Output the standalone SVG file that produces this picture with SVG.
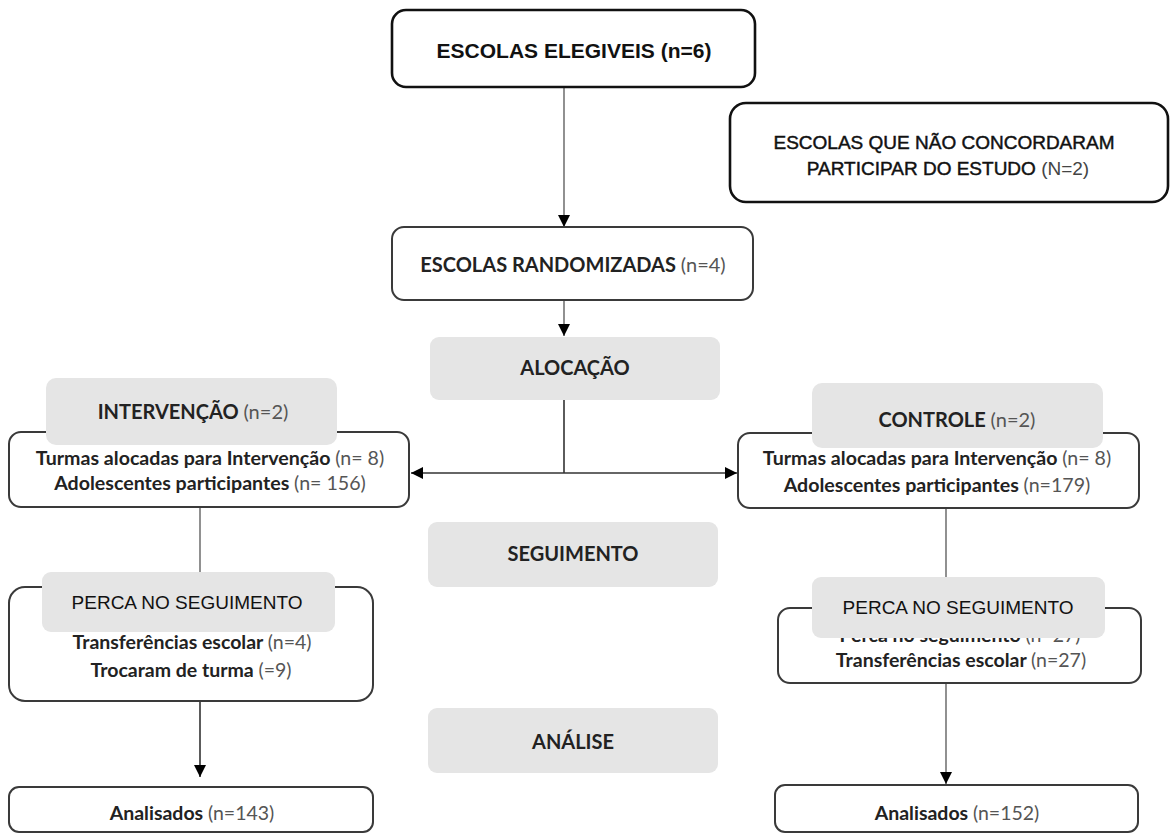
<svg xmlns="http://www.w3.org/2000/svg" width="1171" height="834" viewBox="0 0 1171 834">
<defs>
<style>
.bg{fill:#ffffff}
.box{fill:#ffffff;stroke:#3a3a3a;stroke-width:2}
.boxk{fill:#ffffff;stroke:#111111;stroke-width:2.6}
.gray{fill:#e5e5e5;stroke:none}
.line{fill:none;stroke:#555555;stroke-width:1.3}
.lineh{fill:none;stroke:#333333;stroke-width:1.6}
.ar{font-family:"Liberation Sans",Arial,sans-serif;fill:#111111}
.med{stroke:#111111;stroke-width:0.45}
.cb{font-family:Lato,"Open Sans",sans-serif;fill:#222222;font-weight:bold}
.n{font-weight:normal;fill:#555555}
</style>
<marker id="ah" viewBox="0 0 10 10" refX="10" refY="5" markerWidth="12" markerHeight="12" markerUnits="userSpaceOnUse" orient="auto">
<path d="M0,0 L10,5 L0,10 Z" fill="#000000"/>
</marker>
</defs>
<rect class="bg" x="0" y="0" width="1171" height="834"/>

<g id="connectors">
<line class="line" x1="564" y1="87" x2="564" y2="227" marker-end="url(#ah)"/>
<line class="line" x1="564" y1="300" x2="564" y2="336" marker-end="url(#ah)"/>
<line class="lineh" x1="564" y1="400" x2="564" y2="473"/>
<line class="lineh" x1="564" y1="473" x2="411" y2="473" marker-end="url(#ah)"/>
<line class="lineh" x1="564" y1="473" x2="737" y2="473" marker-end="url(#ah)"/>
<line class="line" x1="200" y1="507" x2="200" y2="575"/>
<line class="line" x1="946" y1="508" x2="946" y2="580"/>
<line class="lineh" x1="200" y1="701" x2="200" y2="777" marker-end="url(#ah)"/>
<line class="line" x1="946" y1="683" x2="946" y2="784" marker-end="url(#ah)"/>
</g>

<g id="elegiveis">
<rect class="boxk" x="392" y="10" width="363" height="77" rx="14"/>
<text class="ar" x="574" y="57.5" font-size="21" font-weight="bold" text-anchor="middle">ESCOLAS ELEGIVEIS (n=6)</text>
</g>

<g id="nao-concordaram">
<rect class="boxk" x="730" y="103" width="438" height="99" rx="16"/>
<text class="ar med" x="944" y="149" font-size="19" text-anchor="middle">ESCOLAS QUE NÃO CONCORDARAM</text>
<text class="ar" x="948" y="175" font-size="19" text-anchor="middle"><tspan class="med">PARTICIPAR DO ESTUDO</tspan> <tspan fill="#444444">(N=2)</tspan></text>
</g>

<g id="randomizadas">
<rect class="box" x="392" y="227" width="361" height="73" rx="12"/>
<text class="cb" x="573" y="272" font-size="20" text-anchor="middle">ESCOLAS RANDOMIZADAS <tspan class="n">(n=4)</tspan></text>
</g>

<g id="alocacao">
<rect class="gray" x="430" y="337" width="290" height="63" rx="9"/>
<text class="cb" x="575" y="375" font-size="20" text-anchor="middle">ALOCAÇÃO</text>
</g>

<g id="intervencao">
<rect class="box" x="9" y="432" width="400" height="75" rx="12"/>
<rect class="gray" x="46" y="378" width="291" height="67" rx="10"/>
<text class="cb" x="193" y="419" font-size="20" text-anchor="middle">INTERVENÇÃO <tspan class="n">(n=2)</tspan></text>
<text class="cb" x="210" y="465" font-size="19.6" text-anchor="middle">Turmas alocadas para Intervenção <tspan class="n">(n= 8)</tspan></text>
<text class="cb" x="210" y="490" font-size="19.6" text-anchor="middle">Adolescentes participantes <tspan class="n">(n= 156)</tspan></text>
</g>

<g id="controle">
<rect class="box" x="738" y="433" width="401" height="75" rx="12"/>
<rect class="gray" x="812" y="383" width="291" height="65" rx="10"/>
<text class="cb" x="957" y="427" font-size="20" text-anchor="middle">CONTROLE <tspan class="n">(n=2)</tspan></text>
<text class="cb" x="937" y="465" font-size="19.6" text-anchor="middle">Turmas alocadas para Intervenção <tspan class="n">(n= 8)</tspan></text>
<text class="cb" x="937" y="491.5" font-size="19.6" text-anchor="middle">Adolescentes participantes <tspan class="n">(n=179)</tspan></text>
</g>

<g id="seguimento">
<rect class="gray" x="428" y="522" width="290" height="65" rx="9"/>
<text class="cb" x="573" y="561" font-size="20" text-anchor="middle">SEGUIMENTO</text>
</g>

<g id="perca-intervencao">
<rect class="box" x="9" y="587" width="364" height="114" rx="16"/>
<text class="cb" x="192" y="648.5" font-size="19.5" text-anchor="middle">Transferências escolar <tspan class="n">(n=4)</tspan></text>
<rect class="gray" x="42" y="572" width="293" height="60" rx="9"/>
<text class="ar" x="187" y="609" font-size="19" text-anchor="middle">PERCA NO SEGUIMENTO</text>
<text class="cb" x="191" y="676.5" font-size="19.5" text-anchor="middle">Trocaram de turma <tspan class="n">(=9)</tspan></text>
</g>

<g id="perca-controle">
<rect class="box" x="778" y="608" width="363" height="75" rx="12"/>
<text class="cb" x="960" y="641.5" font-size="19.5" text-anchor="middle">Perca no seguimento <tspan class="n">(n=27)</tspan></text>
<rect class="gray" x="812" y="577" width="293" height="61" rx="9"/>
<text class="ar" x="958" y="614" font-size="19" text-anchor="middle">PERCA NO SEGUIMENTO</text>
<text class="cb" x="961" y="666.5" font-size="19.5" text-anchor="middle">Transferências escolar <tspan class="n">(n=27)</tspan></text>
</g>

<g id="analise">
<rect class="gray" x="428" y="708" width="290" height="65" rx="9"/>
<text class="cb" x="573" y="749" font-size="20" text-anchor="middle">ANÁLISE</text>
</g>

<g id="analisados-intervencao">
<rect class="box" x="9" y="787" width="364" height="45" rx="10"/>
<text class="cb" x="192" y="819.5" font-size="19.5" text-anchor="middle">Analisados <tspan class="n">(n=143)</tspan></text>
</g>

<g id="analisados-controle">
<rect class="box" x="775" y="785" width="363" height="47" rx="10"/>
<text class="cb" x="957" y="819.5" font-size="19.5" text-anchor="middle">Analisados <tspan class="n">(n=152)</tspan></text>
</g>
</svg>
